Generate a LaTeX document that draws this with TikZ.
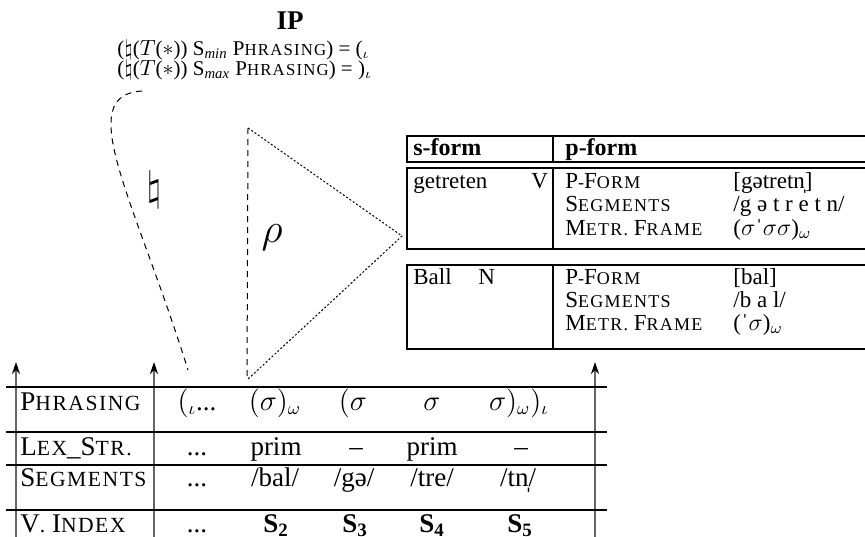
\documentclass[tikz,border=0pt]{standalone}
\usepackage{fontspec}
\setmainfont{Liberation Serif}
\newfontfamily\scf[LetterSpace=7]{Liberation Serif}
\usetikzlibrary{arrows.meta}
\newcommand\scsize{\fontsize{9}{11}\selectfont}
\newcommand\fsc[2]{{\scf #1\scsize #2}}
\begin{document}
\begin{tikzpicture}[x=0.5pt,y=-0.5pt,
  every node/.style={font=\fontsize{11.5}{13}\selectfont, inner sep=0pt},
  txt/.style={anchor=base west},
  ctr/.style={anchor=base},
  formfont/.style={font=\fontsize{10.5}{12}\selectfont\renewcommand\scsize{\fontsize{8.4}{10}\selectfont}},
  tabfont/.style={font=\fontsize{13.5}{15}\selectfont\renewcommand\scsize{\fontsize{10.8}{12}\selectfont}},
  lexbox/.style={line width=1.3pt},
  tabrule/.style={line width=1pt},
  uparrow/.style={draw=black!60, line width=0.7pt, -{Stealth[black,length=6pt,width=4pt]}},
  longdash/.style={dash pattern=on 3pt off 2.5pt, line width=0.5pt},
  finedot/.style={dash pattern=on 1pt off 1pt, line width=0.5pt}]
\useasboundingbox (0,0) rectangle (865,536);
\clip (0,0) rectangle (865,536);

% ---- IP and constraints
\node[ctr,font=\bfseries\fontsize{13.5}{15}\selectfont] (ip) at (290,29) {IP};
\node[txt,formfont] (c1) at (117,55) {($\natural$($T$($\ast$)) S$_{\mathit{min}}$ \fsc{P}{HRASING}) = ($_\iota$};
\node[txt,formfont] (c2) at (117,75) {($\natural$($T$($\ast$)) S$_{\mathit{max}}$ \fsc{P}{HRASING}) = )$_\iota$};

% ---- dashed curve with natural sign
\coordinate (cs) at (142,91);
\coordinate (ce) at (188,370);
\draw[longdash] (cs) .. controls (72,95) and (135,200) .. (ce);
\node (nat) at (154,190) {\fontsize{20}{22}\selectfont$\natural$};

% ---- rho triangle
\coordinate (t1) at (248,128);
\coordinate (t2) at (402,236);
\coordinate (t3) at (247,380);
\draw[longdash] (t1) -- (t3);
\draw[finedot] (t1) -- (t2) -- (t3);
\node (rho) at (272,238) {\fontsize{22}{24}\selectfont$\rho$};

% ---- lexicon
\draw[lexbox] (407,136) rectangle (880,162);
\draw[lexbox] (553,136) -- (553,162);
\draw[lexbox] (407,168) rectangle (880,249);
\draw[lexbox] (553,168) -- (553,249);
\draw[lexbox] (407,265) rectangle (880,349);
\draw[lexbox] (553,265) -- (553,349);

\node[txt,font=\bfseries\fontsize{12}{14}\selectfont] (sf) at (413,155) {s-form};
\node[txt,font=\bfseries\fontsize{12}{14}\selectfont] (pf) at (565,155) {p-form};

\node[txt] (w1) at (413,188) {getreten};
\node[txt] (w1c) at (531,188) {V};
\node[txt] (w1a) at (565,188) {\fsc{P}{-}\fsc{F}{ORM}};
\node[txt] (w1b) at (733,188) {[gətretn̩]};
\node[txt] (w1d) at (565,211) {\fsc{S}{EGMENTS}};
\node[txt] (w1e) at (733,211) {/g ə t r e t n/};
\node[txt] (w1f) at (565,235) {\fsc{M}{ETR.} \fsc{F}{RAME}};
\node[txt] (w1g) at (733,235) {($\sigma$ˈ$\sigma\sigma$)$_\omega$};

\node[txt] (w2) at (413,284) {Ball};
\node[txt] (w2c) at (478,284) {N};
\node[txt] (w2a) at (565,284) {\fsc{P}{-}\fsc{F}{ORM}};
\node[txt] (w2b) at (733,284) {[bal]};
\node[txt] (w2d) at (565,307) {\fsc{S}{EGMENTS}};
\node[txt] (w2e) at (733,307) {/b a l/};
\node[txt] (w2f) at (565,330) {\fsc{M}{ETR.} \fsc{F}{RAME}};
\node[txt] (w2g) at (733,330) {(ˈ$\sigma$)$_\omega$};

% ---- bottom table
\coordinate (a1s) at (16,560); \coordinate (a1e) at (16,362);
\coordinate (a2s) at (154,560); \coordinate (a2e) at (154,362);
\coordinate (a3s) at (595,560); \coordinate (a3e) at (595,362);
\draw[uparrow] (a1s) -- (a1e);
\draw[uparrow] (a2s) -- (a2e);
\draw[uparrow] (a3s) -- (a3e);

\draw[tabrule] (6,387) -- (607,387);
\draw[tabrule] (6,432) -- (607,432);
\draw[tabrule] (6,465) -- (607,465);
\draw[tabrule] (6,510) -- (607,510);

\node[txt,tabfont] (r1) at (20,410) {\fsc{P}{HRASING}};
\node[txt,tabfont] (r2) at (20,455) {\fsc{L}{EX}\_\fsc{S}{TR.}};
\node[txt,tabfont] (r3) at (20,486) {\fsc{S}{EGMENTS}};
\node[txt,tabfont] (r4) at (20,532) {\fsc{V}{.} \fsc{I}{NDEX}};

\node[ctr,tabfont] (p1) at (197,410) {$(_\iota$...};
\node[ctr,tabfont] (p2) at (275,410) {$(\sigma)_\omega$};
\node[ctr,tabfont] (p3) at (353,410) {$(\sigma$};
\node[ctr,tabfont] (p4) at (432,410) {$\sigma$};
\node[ctr,tabfont] (p5) at (519,410) {$\sigma)_\omega)_\iota$};

\node[ctr,tabfont] (l1) at (197,455) {...};
\node[ctr,tabfont] (l2) at (276,455) {prim};
\node[ctr,tabfont] (l3) at (356,455) {–};
\node[ctr,tabfont] (l4) at (432,455) {prim};
\node[ctr,tabfont] (l5) at (521,455) {–};

\node[ctr,tabfont] (s1) at (197,486) {...};
\node[ctr,tabfont] (s2) at (275,486) {/bal/};
\node[ctr,tabfont] (s3) at (354,486) {/gə/};
\node[ctr,tabfont] (s4) at (432,486) {/tre/};
\node[ctr,tabfont] (s5) at (518,486) {/tn̩/};

\node[ctr,tabfont] (v1) at (197,532) {...};
\node[ctr,tabfont] (v2) at (276,532) {\textbf{S\textsubscript{2}}};
\node[ctr,tabfont] (v3) at (355,532) {\textbf{S\textsubscript{3}}};
\node[ctr,tabfont] (v4) at (432,532) {\textbf{S\textsubscript{4}}};
\node[ctr,tabfont] (v5) at (520,532) {\textbf{S\textsubscript{5}}};
\end{tikzpicture}
\end{document}
